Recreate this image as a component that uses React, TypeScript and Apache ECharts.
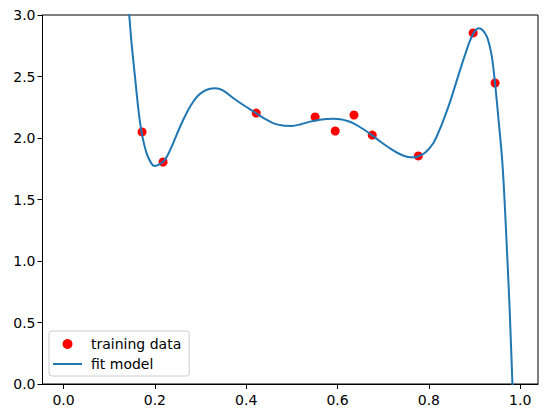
import React, { useEffect, useRef } from "react";
import * as echarts from "echarts";

const trainX = [0.172, 0.218, 0.422, 0.551, 0.595, 0.636, 0.676, 0.777, 0.897, 0.945];
const trainY = [2.049, 1.805, 2.203, 2.171, 2.057, 2.187, 2.024, 1.854, 2.854, 2.447];

const fitX = [
  0.135, 0.144, 0.149, 0.157, 0.164, 0.171, 0.182, 0.193, 0.2, 0.21, 0.219, 0.228, 0.24,
  0.251, 0.262, 0.273, 0.284, 0.295, 0.306, 0.319, 0.332, 0.35, 0.372, 0.397, 0.422, 0.44,
  0.46, 0.48, 0.5, 0.52, 0.54, 0.558, 0.577, 0.592, 0.606, 0.62, 0.635, 0.655, 0.675,
  0.695, 0.715, 0.735, 0.752, 0.765, 0.777, 0.793, 0.81, 0.821, 0.832, 0.847, 0.858,
  0.869, 0.88, 0.89, 0.9, 0.909, 0.918, 0.927, 0.933, 0.938, 0.945, 0.952, 0.96, 0.965,
  0.971, 0.977, 0.983, 0.99,
];
const fitY = [
  3.45, 3.0, 2.77, 2.48, 2.23, 2.046, 1.875, 1.79, 1.773, 1.785, 1.81, 1.86, 1.957,
  2.055, 2.146, 2.228, 2.295, 2.345, 2.377, 2.398, 2.404, 2.385, 2.323, 2.26, 2.201, 2.158,
  2.119, 2.101, 2.098, 2.112, 2.133, 2.147, 2.154, 2.156, 2.152, 2.14, 2.119, 2.075, 2.024,
  1.968, 1.916, 1.872, 1.848, 1.843, 1.852, 1.885, 1.96, 2.045, 2.146, 2.3, 2.43,
  2.56, 2.685, 2.79, 2.865, 2.892, 2.876, 2.824, 2.75, 2.661, 2.444, 2.173, 1.848, 1.55,
  1.089, 0.6, 0.0, -0.7,
];

const xTicks = [0, 0.2, 0.4, 0.6, 0.8, 1.0];

export default function App() {
  const ref = useRef<HTMLDivElement>(null);
  useEffect(() => {
    if (!ref.current) return;
    const chart = echarts.init(ref.current, null, { renderer: "svg" });
    const font = "DejaVu Sans";
    chart.setOption({
      animation: false,
      backgroundColor: "#ffffff",
      grid: {
        left: 42.5,
        right: 9,
        top: 15,
        bottom: 34,
        show: true,
        borderColor: "#000",
        borderWidth: 1,
        backgroundColor: "transparent",
      },
      xAxis: {
        type: "value",
        min: -0.046,
        max: 1.039,
        splitLine: { show: false },
        axisLine: { show: true, onZero: false, lineStyle: { color: "#000", width: 1 } },
        axisTick: { show: true, length: 5, customValues: xTicks, lineStyle: { color: "#000" } },
        axisLabel: {
          customValues: xTicks,
          color: "#000",
          fontFamily: font,
          fontSize: 14,
          margin: 9,
          formatter: (v: number) => v.toFixed(1),
        },
      },
      yAxis: {
        type: "value",
        min: 0,
        max: 3,
        interval: 0.5,
        splitLine: { show: false },
        axisLine: { show: true, onZero: false, lineStyle: { color: "#000", width: 1 } },
        axisTick: { show: true, length: 5, lineStyle: { color: "#000" } },
        axisLabel: {
          color: "#000",
          fontFamily: font,
          fontSize: 14,
          margin: 7,
          formatter: (v: number) => v.toFixed(1),
        },
      },
      legend: {
        orient: "vertical",
        left: 49,
        top: 331,
        padding: [6, 8, 5, 4],
        itemGap: 6,
        itemWidth: 29,
        itemHeight: 10,
        borderColor: "#cccccc",
        borderWidth: 1,
        borderRadius: 3,
        backgroundColor: "rgba(255,255,255,0.8)",
        textStyle: { color: "#000", fontFamily: font, fontSize: 14, padding: [0, 0, 0, 4] },
        data: [
          { name: "training data", icon: "circle" },
          { name: "fit model", icon: "path://M0,0 L29,0 L29,2 L0,2 Z" },
        ],
      },
      series: [
        {
          name: "training data",
          type: "scatter",
          symbol: "circle",
          symbolSize: 9,
          itemStyle: { color: "#ff0000", opacity: 1 },
          z: 2,
          data: trainX.map((x, i) => [x, trainY[i]]),
        },
        {
          name: "fit model",
          type: "line",
          showSymbol: false,
          symbol: "none",
          smooth: 0.3,
          clip: true,
          lineStyle: { color: "#1f77b4", width: 2 },
          itemStyle: { color: "#1f77b4" },
          z: 3,
          data: fitX.map((x, i) => [x, fitY[i]]),
        },
      ],
    });
    return () => chart.dispose();
  }, []);
  return <div ref={ref} style={{ width: 547, height: 418, position: "absolute", left: 0, top: 0 }} />;
}
